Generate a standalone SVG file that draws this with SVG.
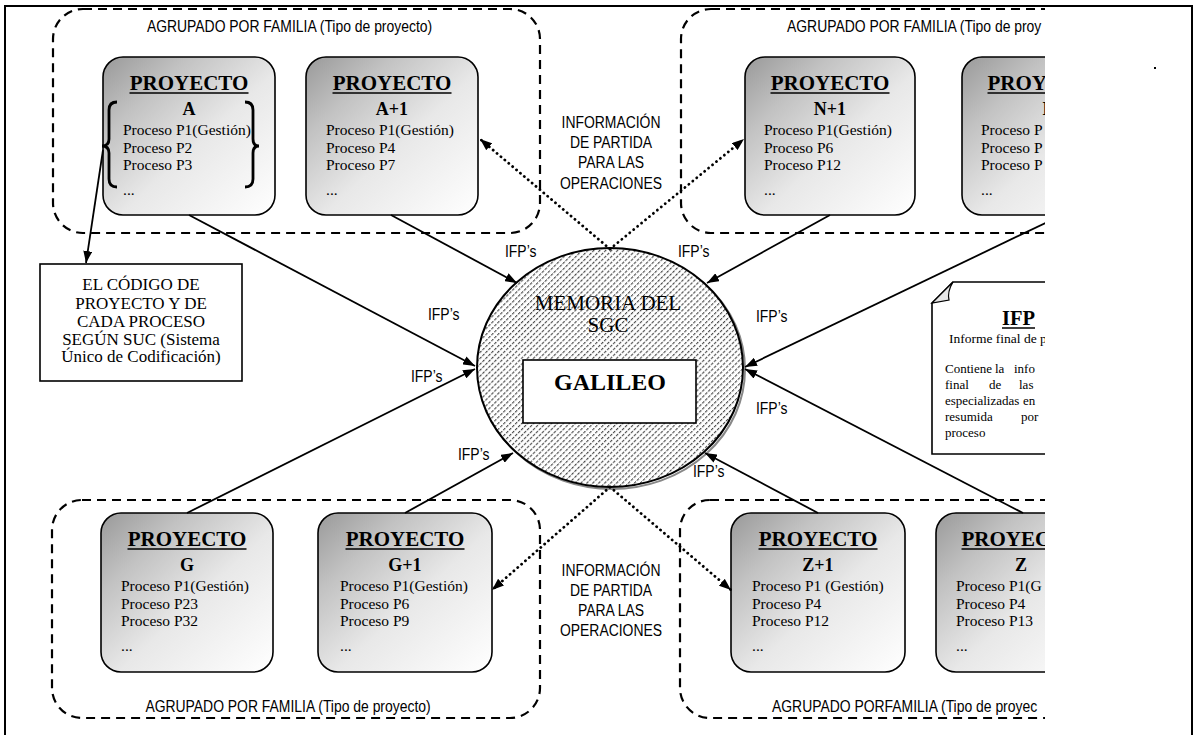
<svg xmlns="http://www.w3.org/2000/svg" width="1198" height="735" viewBox="0 0 1198 735">
  <defs>
    <style>
      .frame { fill: none; stroke: #000; stroke-width: 2; }
      .family { fill: none; stroke: #000; stroke-width: 2.2; stroke-dasharray: 9 6; }
      .proj { fill: url(#boxFill); stroke: #000; stroke-width: 1.6; }
      .plain { fill: #fff; stroke: #000; stroke-width: 1.6; }
      .flow { stroke: #000; stroke-width: 1.8; fill: none; marker-end: url(#arrow); }
      .dots { stroke: #000; stroke-width: 2.8; fill: none; stroke-dasharray: 0.1 5; stroke-linecap: round; marker-end: url(#arrow); }
      .uline { stroke: #000; stroke-width: 1.5; }
      .sans { font-family: "Liberation Sans", Arial, sans-serif; font-size: 16px; fill: #000; }
      .serif { font-family: "Liberation Serif", "Times New Roman", serif; fill: #000; }
      .head { font-size: 21px; font-weight: bold; text-anchor: middle; }
      .head.cut { text-anchor: start; }
      .tag { font-size: 18px; font-weight: bold; text-anchor: middle; }
      .proc { font-size: 15.5px; }
      .mid { text-anchor: middle; }
      .para { font-size: 13px; }
    </style>
    <linearGradient id="boxFill" x1="0" y1="0" x2="1" y2="1">
      <stop offset="0" stop-color="#999999"/>
      <stop offset="0.25" stop-color="#c2c2c2"/>
      <stop offset="0.55" stop-color="#e8e8e8"/>
      <stop offset="1" stop-color="#ffffff"/>
    </linearGradient>
    <pattern id="hatch" width="4.2" height="4.2" patternUnits="userSpaceOnUse" patternTransform="rotate(45)">
      <rect width="4.2" height="4.2" fill="#fff"/>
      <line x1="0.6" y1="0" x2="0.6" y2="4.2" stroke="#333" stroke-width="1" stroke-dasharray="3 1.2"/>
    </pattern>
    <marker id="arrow" viewBox="0 0 12 9" refX="12" refY="4.5" markerWidth="12" markerHeight="9" markerUnits="userSpaceOnUse" orient="auto">
      <path d="M0,0 L12,4.5 L0,9 z" fill="#000"/>
    </marker>
    <clipPath id="cut">
      <rect x="0" y="0" width="1045" height="735"/>
    </clipPath>
  </defs>

  <rect width="1198" height="735" fill="#fff"/>
  <!-- page frame -->
  <path class="frame" d="M5,735 V6 H1192 V735"/>
  <rect x="1154" y="67" width="2" height="2" fill="#000"/>

  <g clip-path="url(#cut)">
    <!-- project families -->
    <g id="family-top-left">
      <rect class="family" x="53" y="9" width="487" height="224" rx="30"/>
      <text class="sans" transform="translate(289.5,32) scale(0.87,1)" text-anchor="middle">AGRUPADO POR FAMILIA (Tipo de proyecto)</text>
    </g>
    <g id="family-top-right">
      <rect class="family" x="681" y="9" width="480" height="224" rx="30"/>
      <text class="sans" transform="translate(787,32) scale(0.87,1)">AGRUPADO POR FAMILIA (Tipo de proy</text>
    </g>
    <g id="family-bottom-left">
      <rect class="family" x="52" y="500" width="488" height="218" rx="30"/>
      <text class="sans" transform="translate(288,712) scale(0.87,1)" text-anchor="middle">AGRUPADO POR FAMILIA (Tipo de proyecto)</text>
    </g>
    <g id="family-bottom-right">
      <rect class="family" x="680" y="500" width="480" height="218" rx="30"/>
      <text class="sans" transform="translate(772,712) scale(0.87,1)">AGRUPADO PORFAMILIA (Tipo de proyec</text>
    </g>

    <!-- project boxes -->
    <g id="proyecto-a">
      <rect class="proj" x="103" y="57" width="172" height="158" rx="20"/>
      <text class="serif head" x="189" y="90">PROYECTO</text>
      <line class="uline" x1="129.5" y1="93" x2="248.5" y2="93"/>
      <text class="serif tag" x="189" y="115">A</text>
      <text class="serif proc" x="123" y="135">Proceso P1(Gestión)</text>
      <text class="serif proc" x="123" y="152.5">Proceso P2</text>
      <text class="serif proc" x="123" y="170">Proceso P3</text>
      <text class="serif proc" x="123" y="195">...</text>
      <path d="M117,102 Q109,102 109,110 L109,139 Q109,146 102,146 Q109,146 109,153 L109,179 Q109,187 117,187" fill="none" stroke="#000" stroke-width="2.8"/>
      <path d="M245,102 Q253,102 253,110 L253,139 Q253,146 259,146 Q253,146 253,153 L253,179 Q253,187 245,187" fill="none" stroke="#000" stroke-width="2.8"/>
    </g>
    <g id="proyecto-a1">
      <rect class="proj" x="306" y="57" width="172" height="158" rx="20"/>
      <text class="serif head" x="392" y="90">PROYECTO</text>
      <line class="uline" x1="332.5" y1="93" x2="451.5" y2="93"/>
      <text class="serif tag" x="392" y="115">A+1</text>
      <text class="serif proc" x="326" y="135">Proceso P1(Gestión)</text>
      <text class="serif proc" x="326" y="152.5">Proceso P4</text>
      <text class="serif proc" x="326" y="170">Proceso P7</text>
      <text class="serif proc" x="326" y="195">...</text>
    </g>
    <g id="proyecto-n1">
      <rect class="proj" x="745" y="57" width="170" height="158" rx="20"/>
      <text class="serif head" x="830" y="90">PROYECTO</text>
      <line class="uline" x1="770.5" y1="93" x2="889.5" y2="93"/>
      <text class="serif tag" x="830" y="115">N+1</text>
      <text class="serif proc" x="764" y="135">Proceso P1(Gestión)</text>
      <text class="serif proc" x="764" y="152.5">Proceso P6</text>
      <text class="serif proc" x="764" y="170">Proceso P12</text>
      <text class="serif proc" x="764" y="195">...</text>
    </g>
    <g id="proyecto-n">
      <rect class="proj" x="962" y="57" width="170" height="158" rx="20"/>
      <text class="serif head cut" x="987.5" y="90">PROY</text>
      <line class="uline" x1="987.5" y1="93" x2="1106.5" y2="93"/>
      <text class="serif tag" x="1049" y="115">N</text>
      <text class="serif proc" x="981" y="135">Proceso P</text>
      <text class="serif proc" x="981" y="152.5">Proceso P</text>
      <text class="serif proc" x="981" y="170">Proceso P</text>
      <text class="serif proc" x="981" y="195">...</text>
    </g>
    <g id="proyecto-g">
      <rect class="proj" x="101" y="513" width="172" height="159" rx="20"/>
      <text class="serif head" x="187" y="546">PROYECTO</text>
      <line class="uline" x1="127.5" y1="549" x2="246.5" y2="549"/>
      <text class="serif tag" x="187" y="571">G</text>
      <text class="serif proc" x="121" y="591">Proceso P1(Gestión)</text>
      <text class="serif proc" x="121" y="608.5">Proceso P23</text>
      <text class="serif proc" x="121" y="626">Proceso P32</text>
      <text class="serif proc" x="121" y="651">...</text>
    </g>
    <g id="proyecto-g1">
      <rect class="proj" x="318" y="513" width="174" height="159" rx="20"/>
      <text class="serif head" x="405" y="546">PROYECTO</text>
      <line class="uline" x1="345.5" y1="549" x2="464.5" y2="549"/>
      <text class="serif tag" x="405" y="571">G+1</text>
      <text class="serif proc" x="340" y="591">Proceso P1(Gestión)</text>
      <text class="serif proc" x="340" y="608.5">Proceso P6</text>
      <text class="serif proc" x="340" y="626">Proceso P9</text>
      <text class="serif proc" x="340" y="651">...</text>
    </g>
    <g id="proyecto-z1">
      <rect class="proj" x="731" y="513" width="174" height="159" rx="20"/>
      <text class="serif head" x="818" y="546">PROYECTO</text>
      <line class="uline" x1="758.5" y1="549" x2="877.5" y2="549"/>
      <text class="serif tag" x="818" y="571">Z+1</text>
      <text class="serif proc" x="752" y="591">Proceso P1 (Gestión)</text>
      <text class="serif proc" x="752" y="608.5">Proceso P4</text>
      <text class="serif proc" x="752" y="626">Proceso P12</text>
      <text class="serif proc" x="752" y="651">...</text>
    </g>
    <g id="proyecto-z">
      <rect class="proj" x="936" y="513" width="170" height="159" rx="20"/>
      <text class="serif head cut" x="961.5" y="546">PROYEC</text>
      <line class="uline" x1="961.5" y1="549" x2="1080.5" y2="549"/>
      <text class="serif tag" x="1021" y="571">Z</text>
      <text class="serif proc" x="956" y="591">Proceso P1(G</text>
      <text class="serif proc" x="956" y="608.5">Proceso P4</text>
      <text class="serif proc" x="956" y="626">Proceso P13</text>
      <text class="serif proc" x="956" y="651">...</text>
    </g>

    <!-- coding note -->
    <g id="codigo">
      <rect class="plain" x="40" y="264" width="202" height="117"/>
      <text class="serif mid" font-size="17" x="141" y="290">EL CÓDIGO DE</text>
      <text class="serif mid" font-size="17" x="141" y="308.5">PROYECTO Y DE</text>
      <text class="serif mid" font-size="17" x="141" y="327">CADA PROCESO</text>
      <text class="serif mid" font-size="17" x="141" y="345">SEGÚN SUC (Sistema</text>
      <text class="serif mid" font-size="17" x="141" y="362">Único de Codificación)</text>
    </g>

    <!-- central memory -->
    <g id="memoria-sgc">
      <ellipse cx="612" cy="369.5" rx="133" ry="119.5" fill="none" stroke="#888" stroke-width="2"/>
      <ellipse cx="610" cy="367.5" rx="133" ry="119.5" fill="url(#hatch)" stroke="#000" stroke-width="2"/>
      <text class="serif mid" font-size="21" x="608" y="310" fill="#111">MEMORIA DEL</text>
      <text class="serif mid" font-size="21" x="608" y="332" fill="#111">SGC</text>
      <rect class="plain" x="523" y="360" width="173" height="63"/>
      <text class="serif mid" font-size="24" font-weight="bold" x="610" y="390">GALILEO</text>
    </g>

    <!-- IFP note -->
    <g id="ifp-nota">
      <path d="M953,282 H1130 V454 H932 V303 Z" fill="#fff" stroke="#000" stroke-width="1.6"/>
      <path d="M932,303 L953,282 Q947,292 949,300 Z" fill="#e6e6e6" stroke="#000" stroke-width="1.2"/>
      <text class="serif mid" font-size="20.5" font-weight="bold" x="1018.5" y="325">IFP</text>
      <line class="uline" x1="1002" y1="328" x2="1035" y2="328"/>
      <text class="serif" font-size="13.5" x="949" y="343">Informe final de p</text>
      <text class="serif para" y="373"><tspan x="945">Contiene</tspan><tspan x="995">la</tspan><tspan x="1014">info</tspan></text>
      <text class="serif para" y="389"><tspan x="945">final</tspan><tspan x="989">de</tspan><tspan x="1019">las</tspan></text>
      <text class="serif para" y="405"><tspan x="945">especializadas</tspan><tspan x="1023">en</tspan></text>
      <text class="serif para" y="421"><tspan x="945">resumida</tspan><tspan x="1021">por</tspan></text>
      <text class="serif para" y="437"><tspan x="945">proceso</tspan></text>
    </g>

    <!-- connectors -->
    <g id="connectors">
      <line class="flow" x1="103" y1="150" x2="86" y2="263"/>
      <line class="flow" x1="189" y1="215" x2="475" y2="366"/>
      <line class="flow" x1="391" y1="215" x2="517" y2="283"/>
      <line class="flow" x1="830" y1="215" x2="707" y2="283"/>
      <line class="flow" x1="1062" y1="215" x2="745" y2="367"/>
      <line class="flow" x1="187" y1="513" x2="475" y2="369"/>
      <line class="flow" x1="405" y1="513" x2="513" y2="453"/>
      <line class="flow" x1="818" y1="513" x2="705" y2="453"/>
      <line class="flow" x1="1023" y1="513" x2="745" y2="369"/>
      <line class="dots" x1="610" y1="249" x2="480" y2="139"/>
      <line class="dots" x1="610" y1="249" x2="744" y2="139"/>
      <line class="dots" x1="610" y1="487" x2="492" y2="590"/>
      <line class="dots" x1="610" y1="487" x2="731" y2="590"/>
    </g>

    <!-- connector labels -->
    <g id="labels">
      <text class="sans" transform="translate(505,257) scale(0.87,1)">IFP’s</text>
      <text class="sans" transform="translate(678,257) scale(0.87,1)">IFP’s</text>
      <text class="sans" transform="translate(428,320) scale(0.87,1)">IFP’s</text>
      <text class="sans" transform="translate(411,382) scale(0.87,1)">IFP’s</text>
      <text class="sans" transform="translate(458,460) scale(0.87,1)">IFP’s</text>
      <text class="sans" transform="translate(693,477) scale(0.87,1)">IFP’s</text>
      <text class="sans" transform="translate(756,322) scale(0.87,1)">IFP’s</text>
      <text class="sans" transform="translate(756,414) scale(0.87,1)">IFP’s</text>
      <g text-anchor="middle">
        <text class="sans" transform="translate(611,128) scale(0.87,1)">INFORMACIÓN</text>
        <text class="sans" transform="translate(611,148) scale(0.87,1)">DE PARTIDA</text>
        <text class="sans" transform="translate(611,168) scale(0.87,1)">PARA LAS</text>
        <text class="sans" transform="translate(611,189) scale(0.87,1)">OPERACIONES</text>
        <text class="sans" transform="translate(611,576) scale(0.87,1)">INFORMACIÓN</text>
        <text class="sans" transform="translate(611,596) scale(0.87,1)">DE PARTIDA</text>
        <text class="sans" transform="translate(611,616) scale(0.87,1)">PARA LAS</text>
        <text class="sans" transform="translate(611,636) scale(0.87,1)">OPERACIONES</text>
      </g>
    </g>
  </g>
</svg>
